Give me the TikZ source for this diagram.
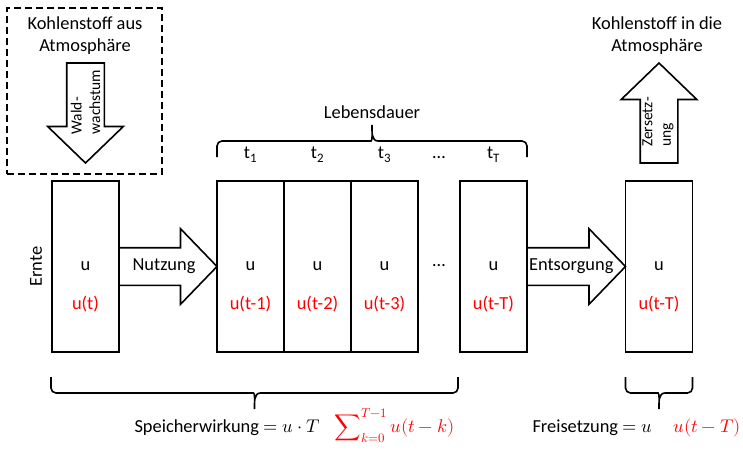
\documentclass[tikz,border=0pt]{standalone}
\usepackage{fontspec}
\usepackage{unicode-math}
\setmainfont{Carlito}
\setmathfont{Latin Modern Math}
\usetikzlibrary{shapes.arrows,calc}

\begin{document}
\begin{tikzpicture}[
  x=1pt, y=-1pt,
  font=\fontsize{18.4}{22}\selectfont,
  lager/.style={draw, line width=1.6pt, minimum width=67pt, minimum height=171pt, inner sep=0pt, outer sep=0pt}, % Speicher
  quelle/.style={draw, line width=1.6pt, dash pattern=on 7pt off 4pt, minimum width=155pt, minimum height=166pt, outer sep=0pt},
  rot/.style={text=red},
  pfeil/.style={draw, line width=1.6pt, single arrow, single arrow head extend=19pt, single arrow tip angle=92, inner sep=18pt, outer sep=0pt, anchor=tail},
  pfeiltext/.style={font=\fontsize{15.5}{18.5}\selectfont, rotate=90, align=left},
  klammer/.style={line width=1.6pt, rounded corners=5pt}
]
  \useasboundingbox (0,0) rectangle (743,450);

  % Kohlenstoff aus der Atmosphaere
  \node [quelle] (quelle) at (84.5,91) {};
  \node [align=center] (aus) at (85,36) {Kohlenstoff aus\\Atmosphäre};
  \node [pfeil, shape border rotate=270, minimum height=100pt] (wald) at (85.5,63) {};
  \node [pfeiltext] (waldtext) at (85.5,102) {Wald-\\wachstum};

  % Speicher
  \node [lager] (b0) at (85.5,266.5) {};
  \node [lager] (b1) at (250.5,266.5) {};
  \node [lager] (b2) at (317.5,266.5) {};
  \node [lager] (b3) at (384.5,266.5) {};
  \node [lager] (bT) at (493.5,266.5) {};
  \node [lager] (bE) at (659,266.5) {};

  \node [rotate=90] (ernte) at ($(b0.west)+(-16,0)$) {Ernte};

  \node (u0) at (b0.center) {u};
  \node (u1) at (b1.center) {u};
  \node (u2) at (b2.center) {u};
  \node (u3) at (b3.center) {u};
  \node (uT) at (bT.center) {u};
  \node (uE) at (bE.center) {u};
  \node (punkte) at (439,266) {…};

  \node [rot] (r0) at ($(b0.center)+(0,38)$) {u(t)};
  \node [rot] (r1) at ($(b1.center)+(0,38)$) {u(t-1)};
  \node [rot] (r2) at ($(b2.center)+(0,38)$) {u(t-2)};
  \node [rot] (r3) at ($(b3.center)+(0,38)$) {u(t-3)};
  \node [rot] (rT) at ($(bT.center)+(0,38)$) {u(t-T)};
  \node [rot] (rE) at ($(bE.center)+(0,38)$) {u(t-T)};

  % Nutzung und Entsorgung
  \node [pfeil, minimum height=98pt] (nutzung) at (b0.east) {};
  \node (nutzungtext) at ($(b0.east)!0.5!(b1.west)+(-4,0)$) {Nutzung};
  \node [pfeil, minimum height=98.5pt] (entsorgung) at (bT.east) {};
  \node (entsorgungtext) at ($(bT.east)!0.5!(bE.west)+(-5,0)$) {Entsorgung};

  % Kohlenstoff in die Atmosphaere
  \node [align=center] (in) at (657,36) {Kohlenstoff in die\\Atmosphäre};
  \node [pfeil, shape border rotate=90, minimum height=100pt] (zersetzung) at ($(bE.north)+(0,-18)$) {};
  \node [pfeiltext] (zersetzungtext) at (658,122) {Zersetz-\\ung};

  % Lebensdauer
  \coordinate (lo1) at ($(b1.north west)+(0,-24)$);
  \coordinate (lo2) at ($(bT.north east)+(0,-24)$);
  \coordinate (lom) at ($(lo1)!0.5!(lo2)$);
  \draw [klammer] (lo1) -- ($(lo1)+(0,-16)$) -- ($(lom)+(-6,-16)$)
    [sharp corners] to[out=0,in=270] ($(lom)+(0,-32)$) to[out=270,in=180] ($(lom)+(6,-16)$)
    [rounded corners=5pt] -- ($(lo2)+(0,-16)$) -- (lo2);
  \node (lebensdauer) at (372,112) {Lebensdauer};
  \node [anchor=base] (t1) at (250.5,158) {t\textsubscript{1}};
  \node [anchor=base] (t2) at (317.5,158) {t\textsubscript{2}};
  \node [anchor=base] (t3) at (384.5,158) {t\textsubscript{3}};
  \node [anchor=base] (tp) at (439,158) {…};
  \node [anchor=base] (tT) at (493.5,158) {t\textsubscript{T}};

  % Speicherwirkung und Freisetzung
  \coordinate (su1) at ($(b0.south west)+(-1,25)$);
  \coordinate (su2) at ($(bT.south west)+(-2,25)$);
  \coordinate (sum) at ($(su1)!0.5!(su2)$);
  \draw [klammer] (su1) -- ($(su1)+(0,16)$) -- ($(sum)+(-6,16)$)
    [sharp corners] to[out=0,in=90] ($(sum)+(0,32)$) to[out=90,in=180] ($(sum)+(6,16)$)
    [rounded corners=5pt] -- ($(su2)+(0,16)$) -- (su2);
  \coordinate (fu1) at ($(bE.south west)+(0,25)$);
  \coordinate (fu2) at ($(bE.south east)+(0,25)$);
  \coordinate (fum) at ($(fu1)!0.5!(fu2)$);
  \draw [klammer] (fu1) -- ($(fu1)+(0,16)$) -- ($(fum)+(-6,16)$)
    [sharp corners] to[out=0,in=90] ($(fum)+(0,32)$) to[out=90,in=180] ($(fum)+(6,16)$)
    [rounded corners=5pt] -- ($(fu2)+(0,16)$) -- (fu2);
  \node [anchor=base west] (speicher) at (131,432) {Speicherwirkung $= u\cdot T$};
  \node [rot, anchor=base west] (summe) at (331,432) {$\displaystyle\sum\nolimits_{k=0}^{T-1} u(t-k)$};
  \node [anchor=base west] (frei) at (529,432) {Freisetzung $= u$};
  \node [rot, anchor=base west] (freiu) at (670,432) {$u(t-T)$};
\end{tikzpicture}
\end{document}
